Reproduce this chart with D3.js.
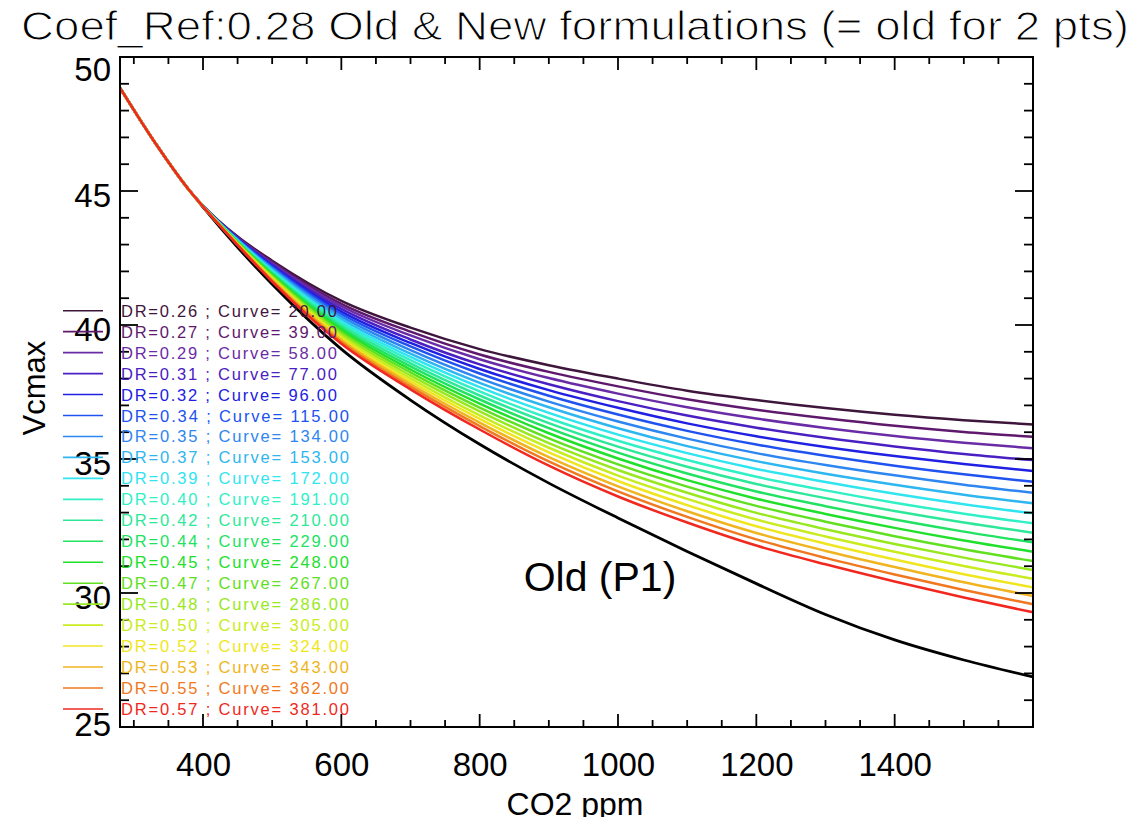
<!DOCTYPE html>
<html><head><meta charset="utf-8">
<script src="https://cdn.jsdelivr.net/npm/d3@7"></script>
<style>body{margin:0;background:#fff}svg{display:block}text{font-family:"Liberation Sans",Arial,sans-serif}</style>
</head><body><svg id="c" width="1146" height="817"></svg>
<script>
// ---- data ----
const titleText = "Coef_Ref:0.28 Old & New formulations (= old for 2 pts)";
const xTicks = [400, 600, 800, 1000, 1200, 1400];
const yTicks = [25, 30, 35, 40, 45, 50];
const co2 = [280, 330, 381, 400, 450, 500, 600, 700, 800, 900, 1000, 1100, 1200, 1300, 1400, 1500, 1600];
const vcmaxOld = [48.85, 46.83, 45.0, 44.40, 42.90, 41.52, 39.10, 37.20, 35.55, 34.10, 32.80, 31.55, 30.35, 29.20, 28.25, 27.50, 26.87];
const drValues = [0.26,0.27,0.29,0.31,0.32,0.34,0.35,0.37,0.39,0.40,0.42,0.44,0.45,0.47,0.48,0.50,0.52,0.53,0.55,0.57];
const curveValues = [20,39,58,77,96,115,134,153,172,191,210,229,248,267,286,305,324,343,362,381];
const seriesColors = ["#3e163c","#5e186c","#6a2ca6","#4a20c2","#2020e2","#2052f0","#2e86f0","#2eb6f0","#30e4f0","#30f0c6","#2ee89a","#22e262","#20e02c","#60e020","#98e820","#c8ec20","#f0e620","#f0b420","#f07820","#f02820"];
// rows: one per co2 value, 20 new-formulation curves per row
const vcmaxNewByCo2 = [
 [48.85,48.85,48.85,48.85,48.85,48.85,48.85,48.85,48.85,48.85,48.85,48.85,48.85,48.85,48.85,48.85,48.85,48.85,48.85,48.85],
 [46.83,46.83,46.83,46.83,46.83,46.83,46.83,46.83,46.83,46.83,46.83,46.83,46.83,46.83,46.83,46.83,46.83,46.83,46.83,46.83],
 [45.0,45.0,45.0,45.0,45.0,45.0,45.0,45.0,45.0,45.0,45.0,45.0,45.0,45.0,45.0,45.0,45.0,45.0,45.0,45.0],
 [44.45,44.45,44.45,44.44,44.44,44.44,44.44,44.44,44.44,44.43,44.43,44.43,44.43,44.43,44.43,44.42,44.42,44.42,44.42,44.42],
 [43.30,43.28,43.26,43.24,43.22,43.20,43.18,43.17,43.15,43.13,43.12,43.10,43.08,43.07,43.05,43.04,43.02,43.01,42.99,42.98],
 [42.40,42.35,42.30,42.25,42.21,42.16,42.12,42.07,42.03,41.99,41.95,41.91,41.87,41.83,41.80,41.76,41.72,41.69,41.65,41.62],
 [40.90,40.79,40.70,40.60,40.50,40.41,40.32,40.23,40.14,40.06,39.98,39.90,39.82,39.74,39.66,39.58,39.51,39.44,39.37,39.30],
 [39.90,39.75,39.61,39.46,39.33,39.20,39.06,38.93,38.81,38.69,38.57,38.46,38.34,38.23,38.12,38.01,37.90,37.80,37.70,37.60],
 [39.10,38.90,38.72,38.53,38.36,38.19,38.01,37.84,37.68,37.52,37.37,37.22,37.07,36.92,36.78,36.63,36.50,36.36,36.23,36.10],
 [38.50,38.25,38.02,37.79,37.57,37.36,37.14,36.93,36.72,36.52,36.34,36.15,35.96,35.77,35.59,35.42,35.25,35.07,34.91,34.75],
 [38.00,37.71,37.44,37.16,36.91,36.66,36.40,36.15,35.91,35.68,35.46,35.24,35.02,34.80,34.59,34.38,34.18,33.98,33.79,33.60],
 [37.55,37.23,36.93,36.62,36.33,36.05,35.76,35.48,35.22,34.96,34.71,34.46,34.21,33.97,33.74,33.51,33.28,33.05,32.84,32.63],
 [37.20,36.84,36.51,36.17,35.85,35.54,35.22,34.92,34.63,34.34,34.07,33.79,33.52,33.25,32.99,32.74,32.49,32.24,32.00,31.77],
 [36.90,36.52,36.16,35.79,35.45,35.12,34.78,34.45,34.14,33.83,33.54,33.24,32.95,32.66,32.38,32.11,31.84,31.57,31.31,31.07],
 [36.65,36.24,35.86,35.47,35.11,34.75,34.39,34.04,33.70,33.37,33.06,32.74,32.43,32.12,31.83,31.54,31.25,30.97,30.69,30.43],
 [36.45,36.01,35.61,35.19,34.81,34.43,34.04,33.67,33.31,32.96,32.63,32.29,31.96,31.63,31.32,31.01,30.70,30.40,30.11,29.83],
 [36.29,35.83,35.40,34.96,34.55,34.15,33.74,33.35,32.97,32.60,32.25,31.89,31.54,31.19,30.86,30.53,30.21,29.89,29.58,29.28]
];

// ---- drawing ----
const svg = d3.select("#c");
const L = 120, R = 1033, T = 57, B = 727;
const x = d3.scaleLinear().domain([280, 1600]).range([L, R]);
const y = d3.scaleLinear().domain([25, 50]).range([B, T]);

// thin, narrow title (white outline thins the glyph strokes)
svg.append("text").attr("x", 575).attr("y", 40).attr("text-anchor", "middle")
  .attr("font-size", 40).attr("textLength", 1108).attr("lengthAdjust", "spacingAndGlyphs")
  .attr("stroke", "#fff").attr("stroke-width", 1.1)
  .text(titleText);

const line = d3.line().x(d => x(d[0])).y(d => y(d[1])).curve(d3.curveMonotoneX);
const plot = svg.append("g");
plot.append("path").datum(co2.map((c, i) => [c, vcmaxOld[i]]))
  .attr("d", line).attr("fill", "none").attr("stroke", "#000").attr("stroke-width", 2.8);
drValues.forEach((dr, k) => {
  plot.append("path").datum(co2.map((c, i) => [c, vcmaxNewByCo2[i][k]]))
    .attr("d", line).attr("fill", "none").attr("stroke", seriesColors[k]).attr("stroke-width", 2.5);
});

svg.append("text").attr("x", 600).attr("y", 591).attr("text-anchor", "middle")
  .attr("font-size", 41).text("Old (P1)");

// axes (IDL style: ticks inward on all four sides)
const ax = svg.append("g").attr("stroke", "#000");
ax.append("rect").attr("x", L).attr("y", T).attr("width", R - L).attr("height", B - T)
  .attr("fill", "none").attr("stroke-width", 2);
d3.range(300, 1600, 50).forEach(v => {
  const len = v % 200 === 0 ? 13 : 7;
  ax.append("line").attr("x1", x(v)).attr("x2", x(v)).attr("y1", B).attr("y2", B - len).attr("stroke-width", 1.8);
  ax.append("line").attr("x1", x(v)).attr("x2", x(v)).attr("y1", T).attr("y2", T + len).attr("stroke-width", 1.8);
});
d3.range(26, 50, 1).forEach(v => {
  const len = v % 5 === 0 ? 18 : 9;
  ax.append("line").attr("y1", y(v)).attr("y2", y(v)).attr("x1", L).attr("x2", L + len).attr("stroke-width", 1.8);
  ax.append("line").attr("y1", y(v)).attr("y2", y(v)).attr("x1", R).attr("x2", R - len).attr("stroke-width", 1.8);
});
const xAxis = d3.axisBottom(x).tickValues(xTicks).tickSize(0).tickPadding(0).tickFormat(d3.format("d"));
const gx = svg.append("g").attr("transform", `translate(0,${B})`).call(xAxis);
gx.select(".domain").remove();
gx.selectAll("text").attr("font-size", 33).attr("fill", "#000").attr("dy", null).attr("y", 49)
  .attr("font-family", '"Liberation Sans",Arial,sans-serif');
const yAxis = d3.axisLeft(y).tickValues(yTicks).tickSize(0).tickPadding(0).tickFormat(d3.format("d"));
const gy = svg.append("g").attr("transform", `translate(${L},0)`).call(yAxis);
gy.select(".domain").remove();
gy.selectAll("text").attr("font-size", 33).attr("fill", "#000").attr("x", -9).attr("dy", "0.38em")
  .attr("transform", d => `translate(0,${d === 50 ? 11 : d === 25 ? -4 : 3})`)
  .attr("font-family", '"Liberation Sans",Arial,sans-serif');

svg.append("text").attr("x", 575).attr("y", 815).attr("text-anchor", "middle")
  .attr("font-size", 32).text("CO2 ppm");
svg.append("text").attr("transform", "translate(45,388) rotate(-90)").attr("text-anchor", "middle")
  .attr("font-size", 31).text("Vcmax");

// legend
const lg = svg.append("g");
drValues.forEach((dr, k) => {
  const yy = 310.7 + 20.96 * k;
  lg.append("line").attr("x1", 63).attr("x2", 103).attr("y1", yy).attr("y2", yy)
    .attr("stroke", seriesColors[k]).attr("stroke-width", 1.6);
  const label = "DR=" + dr.toFixed(2) + " ; Curve= " + curveValues[k].toFixed(2);
  lg.append("text").attr("x", 121).attr("y", yy + 6).attr("font-size", 16.5)
    .attr("fill", seriesColors[k]).attr("textLength", curveValues[k] >= 100 ? 228 : 216)
    .attr("lengthAdjust", "spacing").text(label);
});
</script></body></html>
